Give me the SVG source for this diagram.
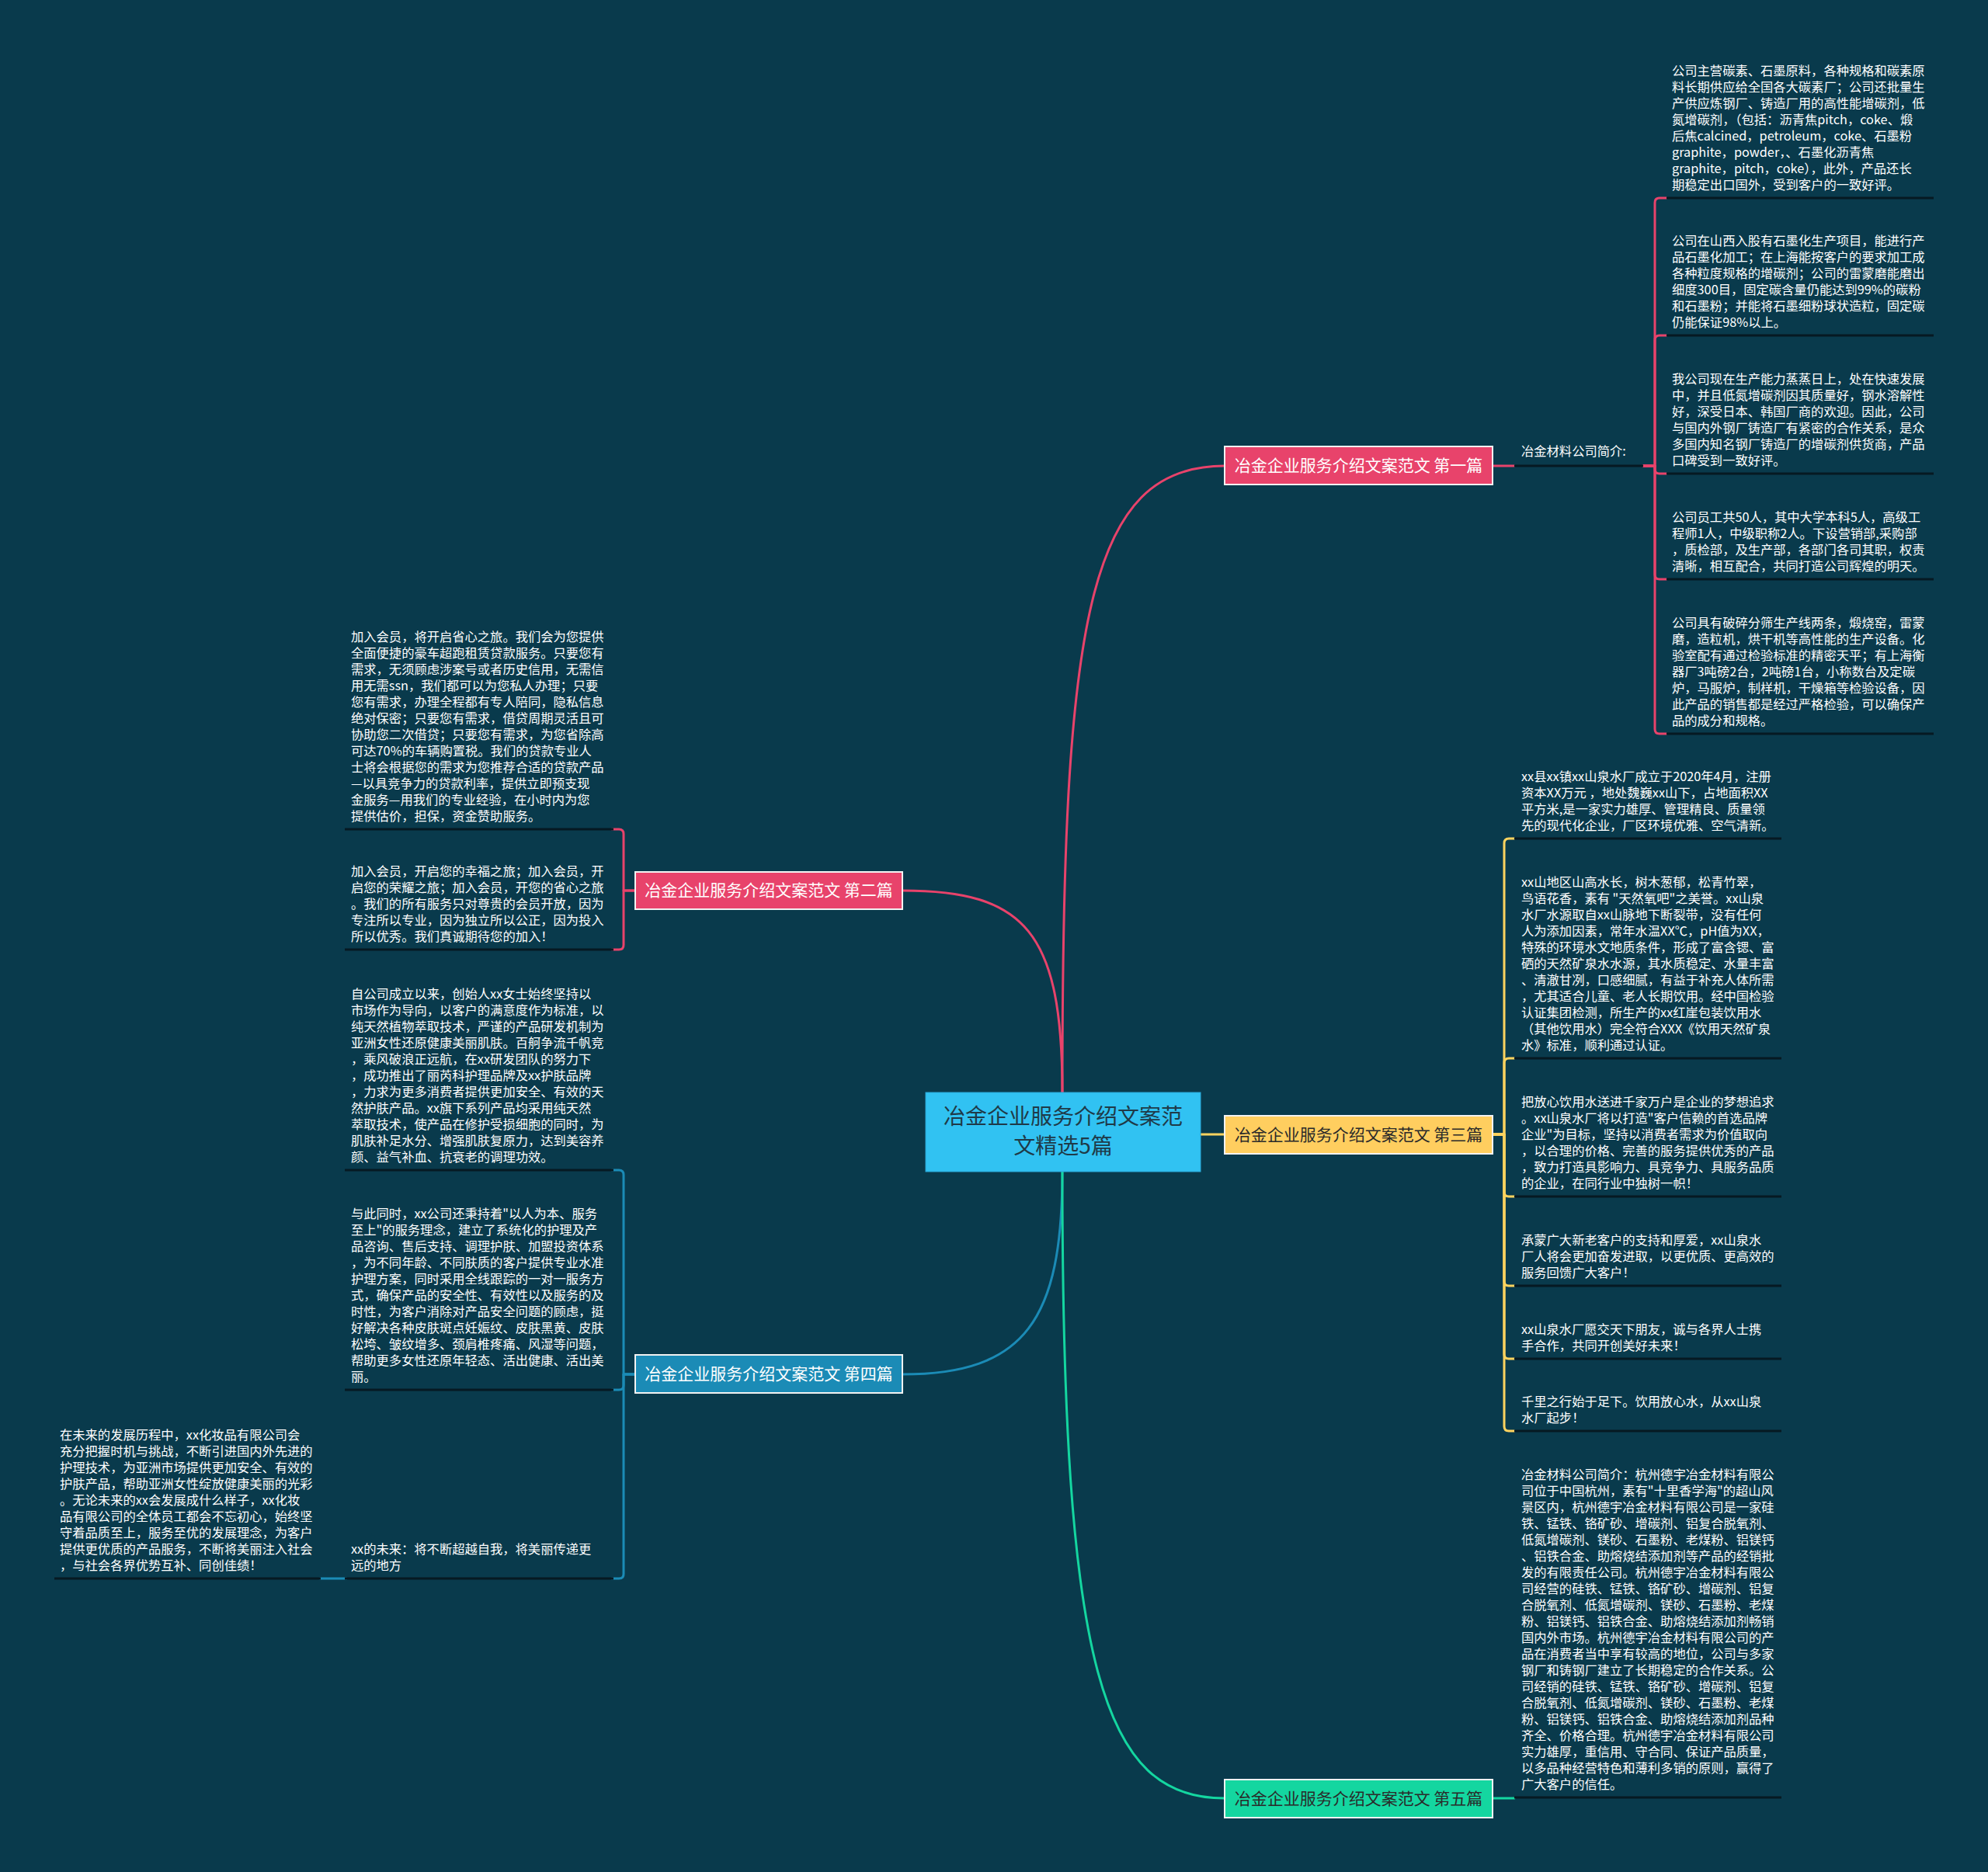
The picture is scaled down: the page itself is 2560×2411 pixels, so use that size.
<svg xmlns="http://www.w3.org/2000/svg" width="2560" height="2411" viewBox="0 0 2560 2411">
<defs>
<style>
.bg{fill:#093a4c}
.t{font-family:"Noto Sans CJK SC","Noto Sans",sans-serif;font-size:16.3px;fill:#ffffff}
.nt{font-family:"Noto Sans CJK SC","Noto Sans",sans-serif;font-size:21px;text-anchor:middle}
.ul{stroke:#061922;stroke-width:3;fill:none}
.c{fill:none;stroke-width:3;stroke-linecap:round;stroke-linejoin:round}
.pk{stroke:#e8436b}
.yl{stroke:#ffd35f}
.bl{stroke:#1b8bb6}
.gr{stroke:#14d6a0}
.box{stroke:#f2f2f2;stroke-width:2}
</style>
</defs>
<rect class="bg" x="0" y="0" width="2560" height="2411"/>

<g id="connectors">
<path class="c pk" d="M1368,1407 C1368,800 1400,600 1577,600"/>
<path class="c pk" d="M1368,1407 C1368,1200 1320,1147 1162,1147"/>
<path class="c yl" d="M1546,1461 H1577"/>
<path class="c bl" d="M1368,1509 C1368,1700 1320,1770 1162,1770"/>
<path class="c gr" d="M1368,1509 C1368,2150 1420,2316 1577,2316"/>
<!-- branch 1 -->
<path class="c pk" d="M1922,600 H1950"/>
<path class="c pk" d="M2116,600 H2131 V261 Q2131,255 2137,255 H2146"/>
<path class="c pk" d="M2116,600 H2131 V438 Q2131,432 2137,432 H2146"/>
<path class="c pk" d="M2116,600 H2131 V604 Q2131,610 2137,610 H2146"/>
<path class="c pk" d="M2116,600 H2131 V740 Q2131,746 2137,746 H2146"/>
<path class="c pk" d="M2116,600 H2131 V939 Q2131,945 2137,945 H2146"/>
<!-- branch 2 -->
<path class="c pk" d="M818,1147 H803 V1074 Q803,1068 797,1068 H788"/>
<path class="c pk" d="M818,1147 H803 V1217 Q803,1223 797,1223 H788"/>
<!-- branch 3 -->
<path class="c yl" d="M1922,1461 H1937 V1086 Q1937,1080 1943,1080 H1950"/>
<path class="c yl" d="M1922,1461 H1937 V1369 Q1937,1363 1943,1363 H1950"/>
<path class="c yl" d="M1922,1461 H1937 V1535 Q1937,1541 1943,1541 H1950"/>
<path class="c yl" d="M1922,1461 H1937 V1650 Q1937,1656 1943,1656 H1950"/>
<path class="c yl" d="M1922,1461 H1937 V1744 Q1937,1750 1943,1750 H1950"/>
<path class="c yl" d="M1922,1461 H1937 V1837 Q1937,1843 1943,1843 H1950"/>
<!-- branch 4 -->
<path class="c bl" d="M818,1770 H803 V1513 Q803,1507 797,1507 H788"/>
<path class="c bl" d="M818,1770 H803 V1784 Q803,1790 797,1790 H788"/>
<path class="c bl" d="M818,1770 H803 V2027 Q803,2033 797,2033 H788"/>
<path class="c bl" d="M412,2033 H446"/>
<!-- branch 5 -->
<path class="c gr" d="M1922,2316 H1950"/>
</g>

<g id="center">
<rect x="1192" y="1407" width="354" height="102" fill="#31c2f2" stroke="#2aa8d8" stroke-width="1"/>
<text class="nt" x="1369" y="1448" style="font-size:28px;fill:#1f3a48">冶金企业服务介绍文案范</text>
<text class="nt" x="1369" y="1486" style="font-size:28px;fill:#1f3a48">文精选5篇</text>
</g>

<g id="b1">
<rect class="box" x="1577" y="575" width="345" height="49" fill="#e8436b"/>
<text class="nt" x="1749.500" y="607" fill="#ffffff">冶金企业服务介绍文案范文 第一篇</text>
</g>
<g id="b2">
<rect class="box" x="818" y="1123" width="344" height="48" fill="#e8436b"/>
<text class="nt" x="990" y="1154" fill="#ffffff">冶金企业服务介绍文案范文 第二篇</text>
</g>
<g id="b3">
<rect class="box" x="1577" y="1437" width="345" height="49" fill="#ffce5f"/>
<text class="nt" x="1749.500" y="1469" fill="#2a2a2a">冶金企业服务介绍文案范文 第三篇</text>
</g>
<g id="b4">
<rect class="box" x="818" y="1745" width="344" height="49" fill="#1b8bb6"/>
<text class="nt" x="990" y="1777" fill="#ffffff">冶金企业服务介绍文案范文 第四篇</text>
</g>
<g id="b5">
<rect class="box" x="1577" y="2292" width="345" height="49" fill="#14d6a0"/>
<text class="nt" x="1749.500" y="2324" fill="#2a2a2a">冶金企业服务介绍文案范文 第五篇</text>
</g>

<g id="b1-label">
<line class="ul" x1="1950" y1="600" x2="2116" y2="600"/>
<text class="t" x="1959" y="587">冶金材料公司简介:</text>
</g>

<g id="b1-c1">
<line class="ul" x1="2146" y1="255" x2="2490" y2="255"/>
<text class="t" x="2153" y="97"><tspan x="2153">公司主营碳素、石墨原料，各种规格和碳素原</tspan><tspan x="2153" dy="21">料长期供应给全国各大碳素厂；公司还批量生</tspan><tspan x="2153" dy="21">产供应炼钢厂、铸造厂用的高性能增碳剂，低</tspan><tspan x="2153" dy="21">氮增碳剂，（包括：沥青焦pitch，coke、煅</tspan><tspan x="2153" dy="21">后焦calcined，petroleum，coke、石墨粉</tspan><tspan x="2153" dy="21">graphite，powder，、石墨化沥青焦</tspan><tspan x="2153" dy="21">graphite，pitch，coke），此外，产品还长</tspan><tspan x="2153" dy="21">期稳定出口国外，受到客户的一致好评。</tspan></text>
</g>
<g id="b1-c2">
<line class="ul" x1="2146" y1="432" x2="2490" y2="432"/>
<text class="t" x="2153" y="316"><tspan x="2153">公司在山西入股有石墨化生产项目，能进行产</tspan><tspan x="2153" dy="21">品石墨化加工；在上海能按客户的要求加工成</tspan><tspan x="2153" dy="21">各种粒度规格的增碳剂；公司的雷蒙磨能磨出</tspan><tspan x="2153" dy="21">细度300目，固定碳含量仍能达到99%的碳粉</tspan><tspan x="2153" dy="21">和石墨粉；并能将石墨细粉球状造粒，固定碳</tspan><tspan x="2153" dy="21">仍能保证98%以上。</tspan></text>
</g>
<g id="b1-c3">
<line class="ul" x1="2146" y1="610" x2="2490" y2="610"/>
<text class="t" x="2153" y="494"><tspan x="2153">我公司现在生产能力蒸蒸日上，处在快速发展</tspan><tspan x="2153" dy="21">中，并且低氮增碳剂因其质量好，钢水溶解性</tspan><tspan x="2153" dy="21">好，深受日本、韩国厂商的欢迎。因此，公司</tspan><tspan x="2153" dy="21">与国内外钢厂铸造厂有紧密的合作关系，是众</tspan><tspan x="2153" dy="21">多国内知名钢厂铸造厂的增碳剂供货商，产品</tspan><tspan x="2153" dy="21">口碑受到一致好评。</tspan></text>
</g>
<g id="b1-c4">
<line class="ul" x1="2146" y1="746" x2="2490" y2="746"/>
<text class="t" x="2153" y="672"><tspan x="2153">公司员工共50人，其中大学本科5人，高级工</tspan><tspan x="2153" dy="21">程师1人，中级职称2人。下设营销部,采购部</tspan><tspan x="2153" dy="21">，质检部，及生产部，各部门各司其职，权责</tspan><tspan x="2153" dy="21">清晰，相互配合，共同打造公司辉煌的明天。</tspan></text>
</g>
<g id="b1-c5">
<line class="ul" x1="2146" y1="945" x2="2490" y2="945"/>
<text class="t" x="2153" y="808"><tspan x="2153">公司具有破碎分筛生产线两条，煅烧窑，雷蒙</tspan><tspan x="2153" dy="21">磨，造粒机，烘干机等高性能的生产设备。化</tspan><tspan x="2153" dy="21">验室配有通过检验标准的精密天平；有上海衡</tspan><tspan x="2153" dy="21">器厂3吨磅2台，2吨磅1台，小称数台及定碳</tspan><tspan x="2153" dy="21">炉，马服炉，制样机，干燥箱等检验设备，因</tspan><tspan x="2153" dy="21">此产品的销售都是经过严格检验，可以确保产</tspan><tspan x="2153" dy="21">品的成分和规格。</tspan></text>
</g>

<g id="b2-c1">
<line class="ul" x1="444" y1="1068" x2="790" y2="1068"/>
<text class="t" x="452" y="826"><tspan x="452">加入会员，将开启省心之旅。我们会为您提供</tspan><tspan x="452" dy="21">全面便捷的豪车超跑租赁贷款服务。只要您有</tspan><tspan x="452" dy="21">需求，无须顾虑涉案号或者历史信用，无需信</tspan><tspan x="452" dy="21">用无需ssn，我们都可以为您私人办理；只要</tspan><tspan x="452" dy="21">您有需求，办理全程都有专人陪同，隐私信息</tspan><tspan x="452" dy="21">绝对保密；只要您有需求，借贷周期灵活且可</tspan><tspan x="452" dy="21">协助您二次借贷；只要您有需求，为您省除高</tspan><tspan x="452" dy="21">可达70%的车辆购置税。我们的贷款专业人</tspan><tspan x="452" dy="21">士将会根据您的需求为您推荐合适的贷款产品</tspan><tspan x="452" dy="21">—以具竞争力的贷款利率，提供立即预支现</tspan><tspan x="452" dy="21">金服务—用我们的专业经验，在小时内为您</tspan><tspan x="452" dy="21">提供估价，担保，资金赞助服务。</tspan></text>
</g>
<g id="b2-c2">
<line class="ul" x1="444" y1="1223" x2="790" y2="1223"/>
<text class="t" x="452" y="1128"><tspan x="452">加入会员，开启您的幸福之旅；加入会员，开</tspan><tspan x="452" dy="21">启您的荣耀之旅；加入会员，开您的省心之旅</tspan><tspan x="452" dy="21">。我们的所有服务只对尊贵的会员开放，因为</tspan><tspan x="452" dy="21">专注所以专业，因为独立所以公正，因为投入</tspan><tspan x="452" dy="21">所以优秀。我们真诚期待您的加入！</tspan></text>
</g>

<g id="b3-c1">
<line class="ul" x1="1950" y1="1080" x2="2294" y2="1080"/>
<text class="t" x="1959" y="1006"><tspan x="1959">xx县xx镇xx山泉水厂成立于2020年4月，注册</tspan><tspan x="1959" dy="21">资本XX万元 ，地处魏巍xx山下，占地面积XX</tspan><tspan x="1959" dy="21">平方米,是一家实力雄厚、管理精良、质量领</tspan><tspan x="1959" dy="21">先的现代化企业，厂区环境优雅、空气清新。</tspan></text>
</g>
<g id="b3-c2">
<line class="ul" x1="1950" y1="1363" x2="2294" y2="1363"/>
<text class="t" x="1959" y="1142"><tspan x="1959">xx山地区山高水长，树木葱郁，松青竹翠，</tspan><tspan x="1959" dy="21">鸟语花香，素有 "天然氧吧"之美誉。xx山泉</tspan><tspan x="1959" dy="21">水厂水源取自xx山脉地下断裂带，没有任何</tspan><tspan x="1959" dy="21">人为添加因素，常年水温XX℃，pH值为XX，</tspan><tspan x="1959" dy="21">特殊的环境水文地质条件，形成了富含锶、富</tspan><tspan x="1959" dy="21">硒的天然矿泉水水源，其水质稳定、水量丰富</tspan><tspan x="1959" dy="21">、清澈甘冽，口感细腻，有益于补充人体所需</tspan><tspan x="1959" dy="21">，尤其适合儿童、老人长期饮用。经中国检验</tspan><tspan x="1959" dy="21">认证集团检测，所生产的xx红崖包装饮用水</tspan><tspan x="1959" dy="21">（其他饮用水）完全符合XXX《饮用天然矿泉</tspan><tspan x="1959" dy="21">水》标准，顺利通过认证。</tspan></text>
</g>
<g id="b3-c3">
<line class="ul" x1="1950" y1="1541" x2="2294" y2="1541"/>
<text class="t" x="1959" y="1425"><tspan x="1959">把放心饮用水送进千家万户是企业的梦想追求</tspan><tspan x="1959" dy="21">。xx山泉水厂将以打造"客户信赖的首选品牌</tspan><tspan x="1959" dy="21">企业"为目标，坚持以消费者需求为价值取向</tspan><tspan x="1959" dy="21">，以合理的价格、完善的服务提供优秀的产品</tspan><tspan x="1959" dy="21">，致力打造具影响力、具竞争力、具服务品质</tspan><tspan x="1959" dy="21">的企业，在同行业中独树一帜！</tspan></text>
</g>
<g id="b3-c4">
<line class="ul" x1="1950" y1="1656" x2="2294" y2="1656"/>
<text class="t" x="1959" y="1603"><tspan x="1959">承蒙广大新老客户的支持和厚爱，xx山泉水</tspan><tspan x="1959" dy="21">厂人将会更加奋发进取，以更优质、更高效的</tspan><tspan x="1959" dy="21">服务回馈广大客户！</tspan></text>
</g>
<g id="b3-c5">
<line class="ul" x1="1950" y1="1750" x2="2294" y2="1750"/>
<text class="t" x="1959" y="1718"><tspan x="1959">xx山泉水厂愿交天下朋友，诚与各界人士携</tspan><tspan x="1959" dy="21">手合作，共同开创美好未来！</tspan></text>
</g>
<g id="b3-c6">
<line class="ul" x1="1950" y1="1843" x2="2294" y2="1843"/>
<text class="t" x="1959" y="1811"><tspan x="1959">千里之行始于足下。饮用放心水，从xx山泉</tspan><tspan x="1959" dy="21">水厂起步！</tspan></text>
</g>

<g id="b4-c1">
<line class="ul" x1="444" y1="1507" x2="790" y2="1507"/>
<text class="t" x="452" y="1286"><tspan x="452">自公司成立以来，创始人xx女士始终坚持以</tspan><tspan x="452" dy="21">市场作为导向，以客户的满意度作为标准，以</tspan><tspan x="452" dy="21">纯天然植物萃取技术，严谨的产品研发机制为</tspan><tspan x="452" dy="21">亚洲女性还原健康美丽肌肤。百舸争流千帆竞</tspan><tspan x="452" dy="21">，乘风破浪正远航，在xx研发团队的努力下</tspan><tspan x="452" dy="21">，成功推出了丽芮科护理品牌及xx护肤品牌</tspan><tspan x="452" dy="21">，力求为更多消费者提供更加安全、有效的天</tspan><tspan x="452" dy="21">然护肤产品。xx旗下系列产品均采用纯天然</tspan><tspan x="452" dy="21">萃取技术，使产品在修护受损细胞的同时，为</tspan><tspan x="452" dy="21">肌肤补足水分、增强肌肤复原力，达到美容养</tspan><tspan x="452" dy="21">颜、益气补血、抗衰老的调理功效。</tspan></text>
</g>
<g id="b4-c2">
<line class="ul" x1="444" y1="1790" x2="790" y2="1790"/>
<text class="t" x="452" y="1569"><tspan x="452">与此同时，xx公司还秉持着"以人为本、服务</tspan><tspan x="452" dy="21">至上"的服务理念，建立了系统化的护理及产</tspan><tspan x="452" dy="21">品咨询、售后支持、调理护肤、加盟投资体系</tspan><tspan x="452" dy="21">，为不同年龄、不同肤质的客户提供专业水准</tspan><tspan x="452" dy="21">护理方案，同时采用全线跟踪的一对一服务方</tspan><tspan x="452" dy="21">式，确保产品的安全性、有效性以及服务的及</tspan><tspan x="452" dy="21">时性，为客户消除对产品安全问题的顾虑，挺</tspan><tspan x="452" dy="21">好解决各种皮肤斑点妊娠纹、皮肤黑黄、皮肤</tspan><tspan x="452" dy="21">松垮、皱纹增多、颈肩椎疼痛、风湿等问题，</tspan><tspan x="452" dy="21">帮助更多女性还原年轻态、活出健康、活出美</tspan><tspan x="452" dy="21">丽。</tspan></text>
</g>
<g id="b4-c3">
<line class="ul" x1="444" y1="2033" x2="790" y2="2033"/>
<text class="t" x="452" y="2001"><tspan x="452">xx的未来：将不断超越自我，将美丽传递更</tspan><tspan x="452" dy="21">远的地方</tspan></text>
</g>
<g id="b4-c3-c1">
<line class="ul" x1="70" y1="2033" x2="413" y2="2033"/>
<text class="t" x="77" y="1854"><tspan x="77">在未来的发展历程中，xx化妆品有限公司会</tspan><tspan x="77" dy="21">充分把握时机与挑战，不断引进国内外先进的</tspan><tspan x="77" dy="21">护理技术，为亚洲市场提供更加安全、有效的</tspan><tspan x="77" dy="21">护肤产品，帮助亚洲女性绽放健康美丽的光彩</tspan><tspan x="77" dy="21">。无论未来的xx会发展成什么样子，xx化妆</tspan><tspan x="77" dy="21">品有限公司的全体员工都会不忘初心，始终坚</tspan><tspan x="77" dy="21">守着品质至上，服务至优的发展理念，为客户</tspan><tspan x="77" dy="21">提供更优质的产品服务，不断将美丽注入社会</tspan><tspan x="77" dy="21">，与社会各界优势互补、同创佳绩！</tspan></text>
</g>

<g id="b5-c1">
<line class="ul" x1="1950" y1="2315" x2="2294" y2="2315"/>
<text class="t" x="1959" y="1905"><tspan x="1959">冶金材料公司简介：杭州德宇冶金材料有限公</tspan><tspan x="1959" dy="21">司位于中国杭州，素有"十里香学海"的超山风</tspan><tspan x="1959" dy="21">景区内，杭州德宇冶金材料有限公司是一家硅</tspan><tspan x="1959" dy="21">铁、锰铁、铬矿砂、增碳剂、铝复合脱氧剂、</tspan><tspan x="1959" dy="21">低氮增碳剂、镁砂、石墨粉、老煤粉、铝镁钙</tspan><tspan x="1959" dy="21">、铝铁合金、助熔烧结添加剂等产品的经销批</tspan><tspan x="1959" dy="21">发的有限责任公司。杭州德宇冶金材料有限公</tspan><tspan x="1959" dy="21">司经营的硅铁、锰铁、铬矿砂、增碳剂、铝复</tspan><tspan x="1959" dy="21">合脱氧剂、低氮增碳剂、镁砂、石墨粉、老煤</tspan><tspan x="1959" dy="21">粉、铝镁钙、铝铁合金、助熔烧结添加剂畅销</tspan><tspan x="1959" dy="21">国内外市场。杭州德宇冶金材料有限公司的产</tspan><tspan x="1959" dy="21">品在消费者当中享有较高的地位，公司与多家</tspan><tspan x="1959" dy="21">钢厂和铸钢厂建立了长期稳定的合作关系。公</tspan><tspan x="1959" dy="21">司经销的硅铁、锰铁、铬矿砂、增碳剂、铝复</tspan><tspan x="1959" dy="21">合脱氧剂、低氮增碳剂、镁砂、石墨粉、老煤</tspan><tspan x="1959" dy="21">粉、铝镁钙、铝铁合金、助熔烧结添加剂品种</tspan><tspan x="1959" dy="21">齐全、价格合理。杭州德宇冶金材料有限公司</tspan><tspan x="1959" dy="21">实力雄厚，重信用、守合同、保证产品质量，</tspan><tspan x="1959" dy="21">以多品种经营特色和薄利多销的原则，赢得了</tspan><tspan x="1959" dy="21">广大客户的信任。</tspan></text>
</g>
</svg>
